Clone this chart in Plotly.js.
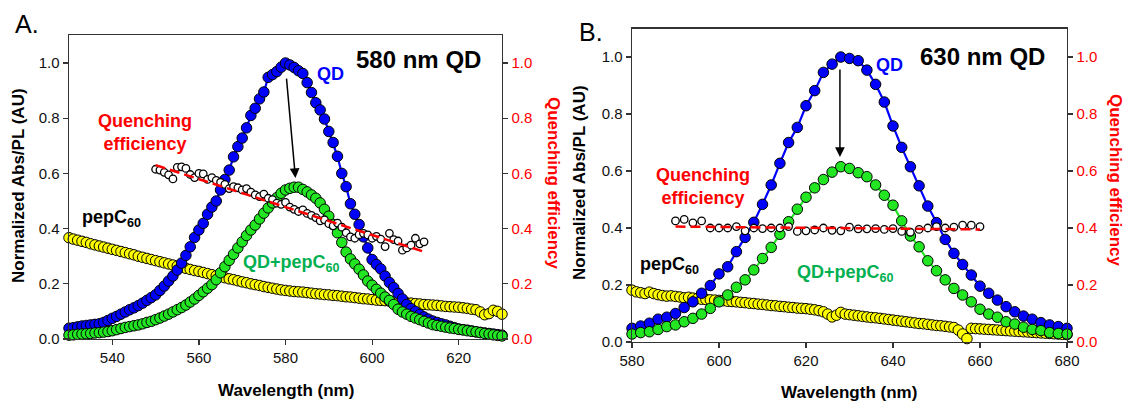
<!DOCTYPE html>
<html>
<head>
<meta charset="utf-8">
<script src="https://cdn.plot.ly/plotly-3.0.1.min.js"></script>
<style>html,body{margin:0;padding:0;background:#fff;}#chart{width:1125px;height:403px;}</style>
</head>
<body>
<div id="chart"></div>
<script>
// ---------- Panel A: 580 nm QD (1 nm grid 530..630) ----------
const wlA_start = 530, wlA_step = 1;
const qdA = [0.039,0.041,0.044,0.047,0.049,0.051,0.053,0.055,0.060,0.067,
  0.075,0.082,0.090,0.098,0.106,0.113,0.121,0.130,0.140,0.150,
  0.160,0.176,0.192,0.210,0.228,0.250,0.275,0.303,0.334,0.368,
  0.395,0.419,0.452,0.478,0.500,0.540,0.578,0.612,0.660,0.697,
  0.728,0.765,0.810,0.836,0.870,0.895,0.948,0.958,0.969,0.985,
  1.000,0.993,0.984,0.972,0.962,0.929,0.893,0.856,0.830,0.797,
  0.752,0.712,0.662,0.600,0.552,0.490,0.452,0.415,0.370,0.330,
  0.288,0.270,0.254,0.228,0.205,0.186,0.165,0.145,0.125,0.110,
  0.100,0.089,0.080,0.072,0.065,0.060,0.055,0.051,0.046,0.041,
  0.036,0.034,0.032,0.029,0.026,0.024,0.022,0.020,0.018,0.016,0.014];
const qdPepA = [0.014,0.015,0.017,0.018,0.019,0.020,0.022,0.023,0.025,0.027,
  0.030,0.034,0.038,0.042,0.045,0.048,0.051,0.055,0.060,0.064,
  0.070,0.076,0.083,0.090,0.098,0.106,0.114,0.123,0.134,0.145,
  0.158,0.171,0.184,0.197,0.215,0.240,0.262,0.285,0.307,0.330,
  0.352,0.375,0.395,0.413,0.435,0.456,0.475,0.493,0.512,0.528,
  0.540,0.546,0.550,0.550,0.542,0.533,0.522,0.510,0.493,0.470,
  0.445,0.415,0.385,0.350,0.315,0.290,0.272,0.253,0.232,0.210,
  0.195,0.180,0.166,0.152,0.140,0.125,0.108,0.098,0.090,0.082,
  0.076,0.070,0.064,0.058,0.052,0.049,0.046,0.043,0.040,0.038,
  0.035,0.033,0.030,0.028,0.026,0.023,0.020,0.018,0.015,0.013,0.011];
const pepA = [0.367,0.362,0.358,0.354,0.350,0.345,0.341,0.337,0.333,0.329,
  0.325,0.321,0.317,0.313,0.309,0.305,0.300,0.296,0.292,0.288,
  0.284,0.280,0.276,0.272,0.268,0.264,0.260,0.256,0.252,0.248,
  0.245,0.241,0.237,0.233,0.229,0.226,0.222,0.218,0.215,0.211,
  0.207,0.204,0.200,0.197,0.194,0.190,0.187,0.184,0.181,0.178,
  0.176,0.174,0.172,0.171,0.170,0.168,0.166,0.164,0.163,0.161,
  0.160,0.158,0.157,0.155,0.153,0.152,0.150,0.148,0.146,0.145,
  0.143,0.141,0.140,0.139,0.137,0.136,0.134,0.133,0.131,0.130,
  0.128,0.127,0.125,0.124,0.123,0.122,0.120,0.118,0.117,0.116,
  0.115,0.113,0.111,0.108,0.106,0.098,0.088,0.092,0.104,0.100,0.090];
// quenching efficiency A (1 nm grid 550..612)
const qeA_start = 550, qeA_step = 1;
const qeA = [0.615,0.612,0.604,0.595,0.580,0.622,0.624,0.618,0.596,0.585,
  0.600,0.598,0.578,0.585,0.575,0.568,0.560,0.545,0.552,0.548,
  0.540,0.545,0.532,0.522,0.516,0.525,0.510,0.505,0.492,0.488,
  0.495,0.478,0.470,0.462,0.468,0.455,0.448,0.440,0.428,0.432,
  0.418,0.410,0.420,0.405,0.385,0.370,0.365,0.378,0.383,0.377,
  0.365,0.372,0.362,0.335,0.383,0.360,0.355,0.322,0.330,0.340,
  0.365,0.345,0.352];
const qeFitA_x = [550, 612];
const qeFitA_y = [0.630, 0.316];

// ---------- Panel B: 630 nm QD ----------
const wlB_start = 580, wlB_step = 2;   // QD and QD+pepC60 (2 nm grid)
const qdB = [0.048,0.056,0.066,0.080,0.087,0.100,0.121,0.141,0.171,0.198,
  0.239,0.264,0.317,0.367,0.420,0.483,0.551,0.627,0.700,0.753,
  0.829,0.882,0.946,0.975,1.000,0.995,0.987,0.954,0.904,0.842,
  0.758,0.683,0.615,0.548,0.477,0.419,0.360,0.311,0.272,0.235,
  0.196,0.171,0.147,0.124,0.106,0.091,0.080,0.068,0.060,0.054,0.048];
const qdPepB = [0.028,0.033,0.036,0.044,0.054,0.060,0.071,0.083,0.098,0.118,
  0.141,0.165,0.192,0.218,0.253,0.293,0.332,0.378,0.422,0.466,
  0.508,0.541,0.570,0.596,0.615,0.609,0.594,0.580,0.551,0.515,
  0.480,0.425,0.372,0.334,0.285,0.250,0.218,0.188,0.165,0.141,
  0.115,0.098,0.087,0.071,0.063,0.052,0.044,0.040,0.033,0.030,0.028];
const pepB_start = 580, pepB_step = 1;
const pepB = [0.182,0.176,0.173,0.170,0.175,0.170,0.166,0.163,0.161,0.162,
  0.160,0.158,0.155,0.157,0.154,0.152,0.150,0.149,0.148,0.147,
  0.146,0.145,0.143,0.142,0.141,0.139,0.138,0.136,0.135,0.133,
  0.132,0.130,0.128,0.127,0.125,0.124,0.122,0.121,0.119,0.118,
  0.117,0.115,0.113,0.110,0.106,0.098,0.088,0.094,0.104,0.098,
  0.096,0.094,0.092,0.090,0.088,0.086,0.085,0.083,0.081,0.079,
  0.077,0.075,0.073,0.071,0.069,0.067,0.065,0.064,0.062,0.060,
  0.058,0.057,0.055,0.053,0.051,0.042,0.028,0.012,0.048,0.047,
  0.046,0.045,0.044,0.043,0.042,0.041,0.040,0.039,0.038,0.037,
  0.036,0.035,0.034,0.033,0.032,0.031,0.030,0.029,0.028,0.027,0.026];
const qeB_start = 590, qeB_step = 2;
const qeB = [0.425,0.430,0.418,0.425,0.400,0.400,0.400,0.405,0.390,0.400,
  0.398,0.400,0.400,0.405,0.388,0.390,0.393,0.400,0.392,0.390,
  0.403,0.397,0.397,0.398,0.395,0.398,0.388,0.385,0.395,0.400,
  0.405,0.400,0.403,0.410,0.410,0.405];
const qeFitB_x = [590, 660];
const qeFitB_y = [0.405, 0.395];

const yTicks = [0, 0.2, 0.4, 0.6, 0.8, 1.0];
const xTicksA = [540, 560, 580, 600, 620];
const xTicksB = [580, 600, 620, 640, 660, 680];

// ---------- styles ----------
const BLUE = '#0000FF', GREEN = '#22E622', YELLOW = '#FFFF00', RED = '#FF0000', TGREEN = '#00B050';
const FONT = 'Liberation Sans, Arial, Helvetica, sans-serif';

function dots(y, x0, dx, color, size, xa, ya, withLine) {
  return {type:'scatter', mode: withLine ? 'lines+markers' : 'markers', y:y, x0:x0, dx:dx,
    xaxis:xa, yaxis:ya, cliponaxis:false,
    line:{color:color, width:2.2},
    marker:{color:color, size:size, line:{color:'#000', width:1}}};
}
function qeDots(y, x0, dx, xa, ya) {
  return {type:'scatter', mode:'markers', y:y, x0:x0, dx:dx, xaxis:xa, yaxis:ya, cliponaxis:false,
    marker:{color:'#fff', size:7.5, line:{color:'#000', width:1.3}}};
}
function fit(x, y, xa, ya) {
  return {type:'scatter', mode:'lines', x:x, y:y, xaxis:xa, yaxis:ya,
    line:{color:RED, width:2.5, dash:'10px,5px'}};
}

const data = [
  dots(pepA, wlA_start, wlA_step, YELLOW, 10.5, 'x', 'y', false),
  dots(qdA, wlA_start, wlA_step, BLUE, 10.5, 'x', 'y', true),
  dots(qdPepA, wlA_start, wlA_step, GREEN, 10.5, 'x', 'y', true),
  qeDots(qeA, qeA_start, qeA_step, 'x', 'y2'),
  fit(qeFitA_x, qeFitA_y, 'x', 'y2'),
  dots(pepB, pepB_start, pepB_step, YELLOW, 10.5, 'x2', 'y3', false),
  dots(qdB, wlB_start, wlB_step, BLUE, 10.5, 'x2', 'y3', true),
  dots(qdPepB, wlB_start, wlB_step, GREEN, 10.5, 'x2', 'y3', true),
  qeDots(qeB, qeB_start, qeB_step, 'x2', 'y4'),
  fit(qeFitB_x, qeFitB_y, 'x2', 'y4')
];

const axBase = {showgrid:false, zeroline:false, showline:true, linecolor:'#333', linewidth:1.4,
  ticks:'outside', ticklen:5, tickwidth:1.2, tickcolor:'#333', tickfont:{family:FONT, size:15, color:'#111'}};
function xa(dom, rng, tv, anchor) { return Object.assign({}, axBase, {domain:dom, range:rng, tickvals:tv, anchor:anchor, mirror:true}); }
function yl(dom, anchor) { return Object.assign({}, axBase, {domain:dom, range:[0,1.1], tickvals:yTicks, tickformat:'.1f', anchor:anchor}); }
function yr(over, anchor) { return Object.assign({}, axBase, {overlaying:over, side:'right', range:[0,1.1], tickvals:yTicks, tickformat:'.1f', anchor:anchor,
  tickfont:{family:FONT, size:15, color:RED}}); }

const domAx = [69/1125, 502/1125], domAy = [(403-339)/403, (403-35.4)/403];
const domBx = [632/1125, 1067/1125], domBy = [(403-342)/403, (403-28.5)/403];

function txt(text, x, y, xref, yref, size, color, bold, extra) {
  return Object.assign({text: bold ? '<b>' + text + '</b>' : text, x:x, y:y, xref:xref, yref:yref, showarrow:false,
    xanchor:'center', yanchor:'middle', font:{family:FONT, size:size, color:color}}, extra || {});
}
const ann = [
  // panel letters
  txt('A.', 27, 24, 'paper', 'paper', 25, '#000', false),
  txt('B.', 591, 32, 'paper', 'paper', 25, '#000', false),
  // axis titles
  txt('Normalized Abs/PL (AU)', 18, 186, 'paper', 'paper', 17, '#000', true, {textangle:-90}),
  txt('Quenching efficiency', 553, 183, 'paper', 'paper', 17, RED, true, {textangle:90}),
  txt('Wavelength (nm)', 286, 390, 'paper', 'paper', 17, '#000', true),
  txt('Normalized Abs/PL (AU)', 580, 183, 'paper', 'paper', 17, '#000', true, {textangle:-90}),
  txt('Quenching efficiency', 1116, 180, 'paper', 'paper', 17, RED, true, {textangle:90}),
  txt('Wavelength (nm)', 849, 392, 'paper', 'paper', 17, '#000', true),
  // panel A labels
  txt('580 nm QD', 610.7, 1.011, 'x', 'y', 24, '#000', true),
  txt('QD', 590.3, 0.96, 'x', 'y', 18, BLUE, true),
  txt('Quenching<br>efficiency', 547.6, 0.75, 'x', 'y', 18, RED, true),
  txt('pepC<sub>60</sub>', 539.9, 0.438, 'x', 'y', 18, '#000', true),
  txt('QD+pepC<sub>60</sub>', 581.3, 0.272, 'x', 'y', 18, TGREEN, true),
  // panel B labels
  txt('630 nm QD', 660.5, 1.0, 'x2', 'y3', 24, '#000', true),
  txt('QD', 639.1, 0.972, 'x2', 'y3', 18, BLUE, true),
  txt('Quenching<br>efficiency', 596.3, 0.547, 'x2', 'y3', 18, RED, true),
  txt('pepC<sub>60</sub>', 588.7, 0.27, 'x2', 'y3', 18, '#000', true),
  txt('QD+pepC<sub>60</sub>', 629, 0.242, 'x2', 'y3', 18, TGREEN, true),
  // arrows
  {x:582.3, y:0.583, ax:580.2, ay:0.949, xref:'x', yref:'y', axref:'x', ayref:'y', text:'', showarrow:true,
    arrowhead:2, arrowsize:1.3, arrowwidth:1.5, arrowcolor:'#000'},
  {x:627.8, y:0.649, ax:627.8, ay:0.961, xref:'x2', yref:'y3', axref:'x2', ayref:'y3', text:'', showarrow:true,
    arrowhead:2, arrowsize:1.3, arrowwidth:1.5, arrowcolor:'#000'}
];

const layout = {
  width:1125, height:403, margin:{l:0, r:0, t:0, b:0},
  paper_bgcolor:'#fff', plot_bgcolor:'#fff', showlegend:false,
  font:{family:FONT, size:15, color:'#000'},
  xaxis: xa(domAx, [530, 630], xTicksA, 'y'),
  yaxis: yl(domAy, 'x'),
  yaxis2: yr('y', 'x'),
  xaxis2: xa(domBx, [580, 680], xTicksB, 'y3'),
  yaxis3: yl(domBy, 'x2'),
  yaxis4: yr('y3', 'x2'),
  annotations: ann
};
// paper-pixel helpers for annotations given in pixels
layout.annotations.forEach(function(a){
  if (a.xref === 'paper') { a.x = a.x / 1125; a.y = 1 - a.y / 403; }
});

Plotly.newPlot('chart', data, layout, {staticPlot:true, displayModeBar:false});
</script>
</body>
</html>
